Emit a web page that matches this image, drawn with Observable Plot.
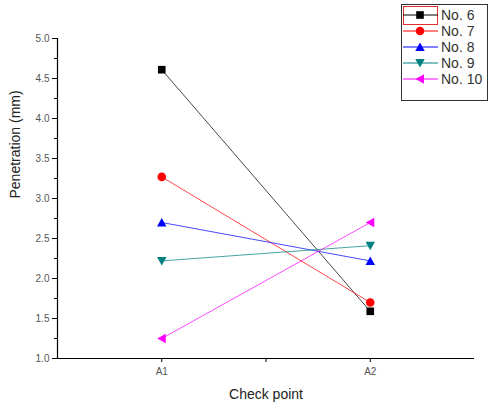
<!DOCTYPE html>
<html>
<head>
<meta charset="utf-8">
<script src="https://cdn.jsdelivr.net/npm/d3@7"></script>
<script src="https://cdn.jsdelivr.net/npm/@observablehq/plot@0.6"></script>
<style>
  html, body { margin: 0; padding: 0; background: #fff; }
  #wrap { position: relative; width: 488px; height: 410px; font-family: "Liberation Sans", Arial, sans-serif; }
  #legend { position: absolute; left: 401px; top: 4px; }
</style>
</head>
<body>
<div id="wrap"><div id="chart"></div><div id="legend"></div></div>
<script>
// ---- data ----
const series = ["No. 6", "No. 7", "No. 8", "No. 9", "No. 10"];
const checkpoints = ["A1", "A2"];
const valuesA1 = [4.61, 3.27, 2.70, 2.22, 1.25];
const valuesA2 = [1.59, 1.70, 2.22, 2.41, 2.70];
const colors = ["#000000", "#ff0000", "#0000ff", "#008080", "#ff00ff"];
const yTicks = [1.0, 1.5, 2.0, 2.5, 3.0, 3.5, 4.0, 4.5, 5.0];
const yMinorTicks = [1.25, 1.75, 2.25, 2.75, 3.25, 3.75, 4.25, 4.75];

// custom marker shapes
const triDown = {draw(ctx, size) {
  const w = Math.sqrt(size) * 0.62;
  ctx.moveTo(-w, -w * 0.85); ctx.lineTo(w, -w * 0.85); ctx.lineTo(0, w * 0.95); ctx.closePath();
}};
const triUp = {draw(ctx, size) {
  const w = Math.sqrt(size) * 0.62;
  ctx.moveTo(-w, w * 0.85); ctx.lineTo(w, w * 0.85); ctx.lineTo(0, -w * 0.95); ctx.closePath();
}};
const triLeft = {draw(ctx, size) {
  const w = Math.sqrt(size) * 0.62;
  ctx.moveTo(w * 0.85, -w); ctx.lineTo(w * 0.85, w); ctx.lineTo(-w * 0.95, 0); ctx.closePath();
}};
const symbols = [d3.symbolSquare, d3.symbolCircle, triUp, triDown, triLeft];

const rows = [];
series.forEach((s, i) => {
  [valuesA1[i], valuesA2[i]].forEach((v, j) => rows.push({series: s, cp: checkpoints[j], x: j + 1, y: v}));
});
const xTickVals = [1, 1.5, 2];
const xLabel = v => (v === 1 ? checkpoints[0] : v === 2 ? checkpoints[1] : "");

const chart = Plot.plot({
  width: 488,
  height: 410,
  marginLeft: 57,
  marginRight: 14,
  marginTop: 38,
  marginBottom: 52,
  style: {fontFamily: "Liberation Sans, Arial, sans-serif", fontSize: "10px", color: "#333", background: "#fff"},
  x: {domain: [0.5, 2.5], axis: null},
  y: {domain: [1, 5], axis: null},
  color: {domain: series, range: colors},
  symbol: {domain: series, range: symbols},
  marks: [
    Plot.ruleX([0.5], {stroke: "#000", strokeWidth: 1.2}),
    Plot.ruleY([1], {stroke: "#000", strokeWidth: 1.2}),
    Plot.axisY(yTicks, {tickSize: 5, tickFormat: d3.format(".1f"), tickPadding: 3, fill: "#555", stroke: "#000", label: null, fontSize: 10}),
    Plot.axisY(yMinorTicks, {tickSize: 3, tickFormat: () => "", stroke: "#000", label: null}),
    Plot.axisX(xTickVals, {tickSize: 4, tickFormat: xLabel, tickPadding: 5, fill: "#555", stroke: "#000", label: null, fontSize: 10}),
    Plot.text(["Penetration (mm)"], {frameAnchor: "left", dx: -42, rotate: -90, fontSize: 14, fill: "#222"}),
    Plot.text(["Check point"], {frameAnchor: "bottom", dy: 40, fontSize: 14, fill: "#222"}),
    Plot.line(rows, {x: "x", y: "y", z: "series", stroke: "series", strokeWidth: 0.9, strokeOpacity: 0.8}),
    Plot.dot(rows, {x: "x", y: "y", symbol: "series", fill: "series", stroke: "none", r: 4.3})
  ]
});
document.getElementById("chart").appendChild(chart);

// ---- legend ----
const lw = 87, lh = 97, rowH = 16;
const lsvg = d3.select("#legend").append("svg").attr("width", lw).attr("height", lh)
  .style("font-family", "Liberation Sans, Arial, sans-serif");
lsvg.append("rect").attr("x", 0.5).attr("y", 0.5).attr("width", lw - 1).attr("height", lh - 1)
  .attr("fill", "#fff").attr("stroke", "#333");
lsvg.append("rect").attr("x", 2.5).attr("y", 2.5).attr("width", 34).attr("height", 18)
  .attr("fill", "none").attr("stroke", "#e03030");
series.forEach((s, i) => {
  const g = lsvg.append("g").attr("transform", `translate(0,${11 + i * rowH})`);
  g.append("line").attr("x1", 2).attr("x2", 37).attr("y1", 0).attr("y2", 0).attr("stroke", colors[i]).attr("stroke-width", 1);
  g.append("path").attr("d", d3.symbol(symbols[i], 4.3 * 4.3 * Math.PI)()).attr("transform", "translate(19,0)").attr("fill", colors[i]);
  g.append("text").attr("x", 40).attr("y", 0).attr("dy", "0.35em").attr("font-size", 14).attr("fill", "#333").text(s);
});
</script>
</body>
</html>
